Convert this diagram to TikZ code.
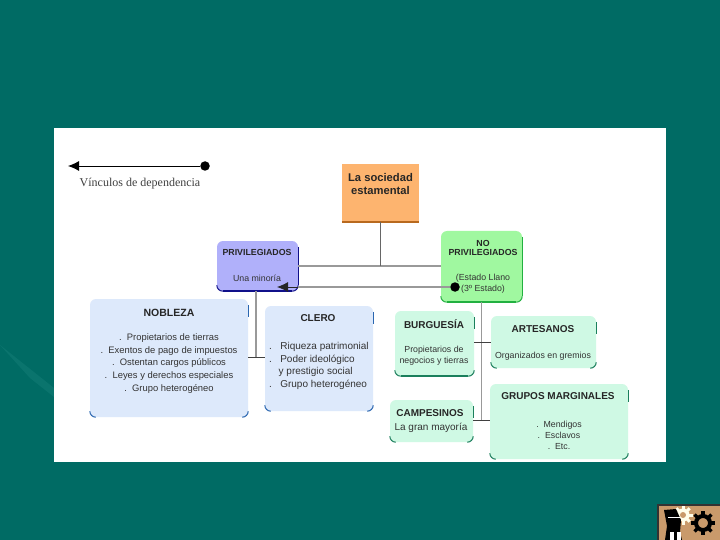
\documentclass[tikz,border=0pt]{standalone}
\usepackage{fontspec}
\setmainfont{Liberation Sans}
\newfontfamily\legendfont{Liberation Serif}
\usetikzlibrary{arrows.meta,positioning,calc}
\definecolor{slidebg}{HTML}{006B64}
\definecolor{slidelight}{HTML}{1F8580}
\definecolor{socfill}{HTML}{FDB46F}
\definecolor{socedge}{HTML}{B8691E}
\definecolor{privfill}{HTML}{B0B0FA}
\definecolor{privedge}{HTML}{10108A}
\definecolor{nopfill}{HTML}{A0F8A0}
\definecolor{nopedge}{HTML}{22B040}
\definecolor{blufill}{HTML}{DDE9FB}
\definecolor{bluedge}{HTML}{2A66B0}
\definecolor{minfill}{HTML}{CFF9E4}
\definecolor{minedge}{HTML}{1B7F5C}
\definecolor{logotan}{HTML}{C99A6B}
\definecolor{linegray}{HTML}{999999}
\tikzset{
    box/.style={minimum width=#1, inner sep=0pt, rounded corners=6pt},
    title/.style={font=\fontsize{10}{11}\selectfont\bfseries, inner sep=0pt, align=center, text=black!85},
    body/.style={font=\fontsize{9.4}{12.6}\selectfont, inner sep=0pt, align=center, text=black!80},
    small/.style={font=\fontsize{8.8}{11}\selectfont},
    bar/.style={line width=1.8pt, linegray},
    stem/.style={line width=1pt, black!60},
    tick/.style={line width=0.8pt, black!75},
    dot/.style={circle, fill=black, inner sep=0pt, minimum size=9.5pt},
    tooth/.style={line width=3pt}
}
\begin{document}
\begin{tikzpicture}[x=1pt, y=-1pt, >={Latex[length=11pt,width=10pt]}]
\useasboundingbox (0,0) rectangle (720,540);
\fill[slidebg] (0,0) rectangle (720,540);
\fill[slidelight, opacity=0.35] (0,345) -- (54,388) -- (54,397) -- (30,378) -- cycle;
\fill[white] (54,128) rectangle (666,462);

% legend
\node[dot] (legdot) at (205,166) {};
\coordinate (legtip) at (68,166);
\draw[->, line width=0.9pt] (legdot) -- (legtip);
\node[font=\legendfont\fontsize{12}{14}\selectfont, inner sep=0pt, text=black!75] (leglabel) at (140,184) {Vínculos de dependencia};

% boxes
\node[box=77pt, minimum height=58pt, fill=socfill, rounded corners=0pt] (soc) at (380.5,193) {};
\node[box=81pt, minimum height=50pt, fill=privfill] (priv) at (257.5,266) {};
\node[box=81pt, minimum height=71pt, fill=nopfill] (nop) at (481.5,266.5) {};
\node[box=158pt, minimum height=118pt, fill=blufill] (nob) at (169,358) {};
\node[box=108pt, minimum height=105pt, fill=blufill] (cle) at (319,358.5) {};
\node[box=79pt, minimum height=65pt, fill=minfill] (bur) at (434.5,343.5) {};
\node[box=105pt, minimum height=52pt, fill=minfill] (art) at (543.5,342) {};
\node[box=83pt, minimum height=42pt, fill=minfill] (cam) at (431.5,421) {};
\node[box=138pt, minimum height=75pt, fill=minfill] (gru) at (559,421.5) {};

% darker corners
\draw[socedge, line width=2pt] (soc.south west) -- (soc.south east);
\foreach \n/\c in {priv/privedge,nop/nopedge,nob/bluedge,cle/bluedge,bur/minedge,art/minedge,cam/minedge,gru/minedge} {
    \draw[\c, line width=1pt] ([yshift=6pt]\n.south west) to[out=-90,in=180] ([xshift=6pt]\n.south west);
    \draw[\c, line width=1pt] ([yshift=6pt]\n.south east) to[out=-90,in=0] ([xshift=-6pt]\n.south east);
    \draw[\c, line width=1pt] ([yshift=-6pt]\n.north east) -- ([yshift=-18pt]\n.north east);
}
\draw[privedge, line width=1.6pt] ([xshift=6pt]priv.south west) -- ([xshift=-6pt]priv.south east);
\draw[privedge, line width=1.2pt] ([yshift=-6pt]priv.north east) -- ([yshift=6pt]priv.south east);
\draw[nopedge, line width=1.6pt] ([xshift=6pt]nop.south west) -- ([xshift=-6pt]nop.south east);
\draw[nopedge, line width=1pt] ([yshift=-6pt]nop.north east) -- ([yshift=6pt]nop.south east);
\draw[minedge, line width=1.6pt] ([xshift=6pt]bur.south west) -- ([xshift=-6pt]bur.south east);

% texts
\node[font=\fontsize{11.2}{13}\selectfont\bfseries, inner sep=0pt, align=center, text=black!85] (soctext) at (380.5,184) {La sociedad\\estamental};
\node[title, font=\fontsize{8.8}{10}\selectfont\bfseries] (privt) at (257,252) {PRIVILEGIADOS};
\node[body, small] (privb) at (257,278) {Una minoría};
\node[title, font=\fontsize{8.8}{9.5}\selectfont\bfseries] (nopt) at (483,248) {NO\\PRIVILEGIADOS};
\node[body, small] (nopb) at (483,283.5) {(Estado Llano\\(3º Estado)};
\node[title, font=\fontsize{10.5}{11}\selectfont\bfseries] (nobt) at (169,313) {NOBLEZA};
\node[body] (nobb) at (169,363.5) {.\ \ Propietarios de tierras\\.\ \ Exentos de pago de impuestos\\.\ \ Ostentan cargos públicos\\.\ \ Leyes y derechos especiales\\.\ \ Grupo heterogéneo};
\node[title] (clet) at (318,318) {CLERO};
\node[body, font=\fontsize{10}{12.7}\selectfont, align=left, anchor=north west] (cleb) at (269,342) {.\ \ \ Riqueza patrimonial\\.\ \ \ Poder ideológico\\\hspace*{9.5pt}y prestigio social\\.\ \ \ Grupo heterogéneo};
\node[title] (burt) at (434,324) {BURGUESÍA};
\node[body, small] (burb) at (434,355.5) {Propietarios de\\negocios y tierras};
\node[title] (artt) at (543,329) {ARTESANOS};
\node[body, small] (artb) at (543,356) {Organizados en gremios};
\node[title] (camt) at (430,413) {CAMPESINOS};
\node[body, font=\fontsize{10}{12}\selectfont] (camb) at (431,428) {La gran mayoría};
\node[title] (grut) at (558,396) {GRUPOS MARGINALES};
\node[body, small] (grub) at (559,435) {.\ \ Mendigos\\.\ \ Esclavos\\.\ \ Etc.};

% connectors
\coordinate (topjoin) at (soc.south |- 0,266);
\coordinate (privtop) at (priv.east |- 0,266);
\coordinate (noptop) at (nop.west |- 0,266);
\coordinate (privlow) at (priv.east |- 0,287);
\coordinate (noplow) at (nop.west |- 0,287);
\coordinate (privtip) at (277,287);
\node[dot] (nopdot) at (455,287) {};
\draw[bar] (privtop) -- (noptop);
\draw[stem] (soc.south) -- (topjoin);
\draw[bar] (privlow) -- (noplow);
\draw[bar, line width=1.2pt] (noplow) -- (nopdot);
\draw[->, line width=0.8pt, black!85] (privlow) -- (privtip);
\coordinate (privfoot) at (256,291);
\coordinate (nobjoin) at (256,357);
\draw[bar, line width=1.2pt] (privfoot) -- (nobjoin);
\draw[tick] (nob.east |- nobjoin) -- (cle.west |- nobjoin);
\coordinate (midjoin) at (nop.south |- 0,342);
\coordinate (lowjoin) at (nop.south |- 0,420);
\draw[bar, line width=1.2pt] (nop.south) -- (lowjoin);
\draw[tick] (bur.east |- midjoin) -- (art.west |- midjoin);
\draw[tick] (cam.east |- lowjoin) -- (gru.west |- lowjoin);

% logo
\fill[black!80] (657,504) rectangle (720,540);
\fill[logotan] (658.5,505.5) rectangle (720,540);
\fill[white!92!yellow] (683,515) circle (6.5);
\foreach \a in {0,45,...,315} {
    \draw[tooth, white!92!yellow] (683,515) -- ++(\a:9.5);
}
\fill[logotan] (683,515) circle (3);
\fill[black] (664,510) -- (676,509) -- (681,520) -- (680,532) -- (682,540) -- (665,540) -- (667,526) -- cycle;
\fill[white] (670,532) rectangle (674,540);
\fill[white] (677,532) rectangle (681,540);
\draw[white, line width=0.8pt] (668,517) -- (680,517);
\draw[black, line width=4pt] (703,523) circle (7);
\foreach \a in {0,45,...,315} {
    \draw[tooth, black, line width=3.5pt] (703,523) ++(\a:8) -- ++(\a:4);
}
\end{tikzpicture}
\end{document}
